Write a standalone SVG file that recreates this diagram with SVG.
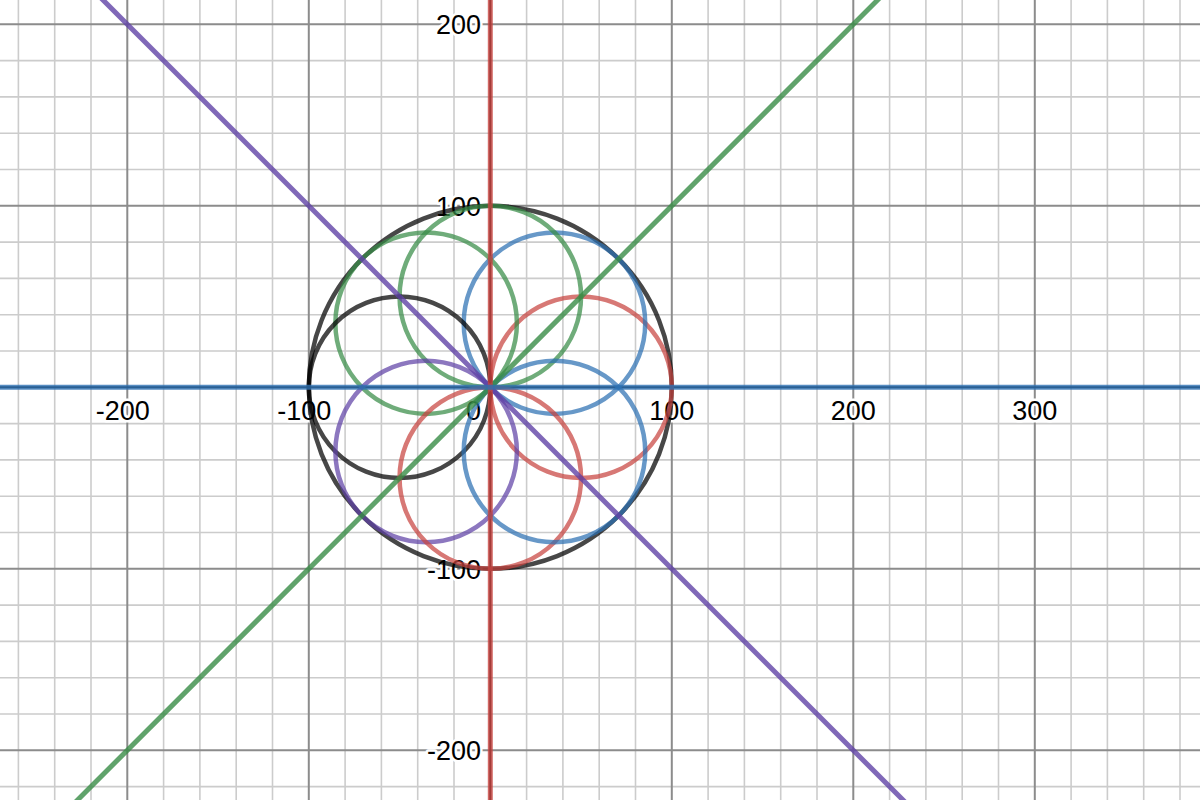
<svg xmlns="http://www.w3.org/2000/svg" width="1200" height="800" viewBox="0 0 1200 800">
<style>
.minor{stroke:#cccccc;stroke-width:1.6;fill:none}
.major{stroke:#8c8c8c;stroke-width:2;fill:none}
.axis{stroke:#1a1a1a;stroke-width:2;fill:none}
.c{fill:none;stroke-width:4.5;stroke-opacity:0.72}
.ln{fill:none;stroke-width:5;stroke-opacity:0.8}
.red{stroke:#c74440}
.blue{stroke:#2d70b3}
.green{stroke:#388c46}
.purple{stroke:#6042a6}
.black{stroke:#000000}
text{font-family:"Liberation Sans",Arial,sans-serif;font-size:27px;fill:#000;stroke:#ffffff;stroke-width:5;stroke-linejoin:round;paint-order:stroke}
.xl{text-anchor:middle}
.yl{text-anchor:end}
</style>
<rect x="0" y="0" width="1200" height="800" fill="#ffffff"/>
<g id="grid">
<path class="minor" d="M18.4 0V800M54.7 0V800M91 0V800M163.6 0V800M199.9 0V800M236.2 0V800M272.5 0V800M345.1 0V800M381.4 0V800M417.7 0V800M454 0V800M526.6 0V800M562.9 0V800M599.2 0V800M635.5 0V800M708.1 0V800M744.4 0V800M780.7 0V800M817 0V800M889.6 0V800M925.9 0V800M962.2 0V800M998.5 0V800M1071.1 0V800M1107.4 0V800M1143.7 0V800M1180 0V800"/>
<path class="minor" d="M0 60.6H1200M0 96.9H1200M0 133.2H1200M0 169.5H1200M0 242.1H1200M0 278.4H1200M0 314.7H1200M0 351H1200M0 423.6H1200M0 459.9H1200M0 496.2H1200M0 532.5H1200M0 605.1H1200M0 641.4H1200M0 677.7H1200M0 714H1200M0 786.6H1200"/>
<path class="major" d="M127.3 0V800M308.8 0V800M671.8 0V800M853.3 0V800M1034.8 0V800M0 24.3H1200M0 205.8H1200M0 568.8H1200M0 750.3H1200"/>
<path class="axis" d="M490.3 0V800M0 387.3H1200"/>
</g>
<g id="labels">
<text class="xl" x="122.8" y="420">-200</text>
<text class="xl" x="304.3" y="420">-100</text>
<text class="yl" x="481" y="420">0</text>
<text class="xl" x="671.8" y="420">100</text>
<text class="xl" x="853.3" y="420">200</text>
<text class="xl" x="1034.8" y="420">300</text>
<text class="yl" x="481" y="34">200</text>
<text class="yl" x="481" y="215.5">100</text>
<text class="yl" x="481" y="578.5">-100</text>
<text class="yl" x="481" y="760">-200</text>
</g>
<g id="circles">
<circle id="big-circle" class="c black" cx="490.3" cy="387.3" r="181.5"/>
<circle id="circle-0" class="c red" cx="581.05" cy="387.3" r="90.75"/>
<circle id="circle-45" class="c blue" cx="554.47" cy="323.13" r="90.75"/>
<circle id="circle-90" class="c green" cx="490.3" cy="296.55" r="90.75"/>
<circle id="circle-135" class="c green" cx="426.13" cy="323.13" r="90.75"/>
<circle id="circle-180" class="c black" cx="399.55" cy="387.3" r="90.75"/>
<circle id="circle-225" class="c purple" cx="426.13" cy="451.47" r="90.75"/>
<circle id="circle-270" class="c red" cx="490.3" cy="478.05" r="90.75"/>
<circle id="circle-315" class="c blue" cx="554.47" cy="451.47" r="90.75"/>
</g>
<g id="connectors">
<line id="line-yx" class="ln green" x1="-9.7" y1="887.3" x2="990.3" y2="-112.7"/>
<line id="line-ynegx" class="ln purple" x1="-9.7" y1="-112.7" x2="990.3" y2="887.3"/>
<line id="line-x0" class="ln red" x1="490.3" y1="0" x2="490.3" y2="800"/>
<line id="line-y0" class="ln blue" x1="0" y1="387.3" x2="1200" y2="387.3"/>
</g>
</svg>
